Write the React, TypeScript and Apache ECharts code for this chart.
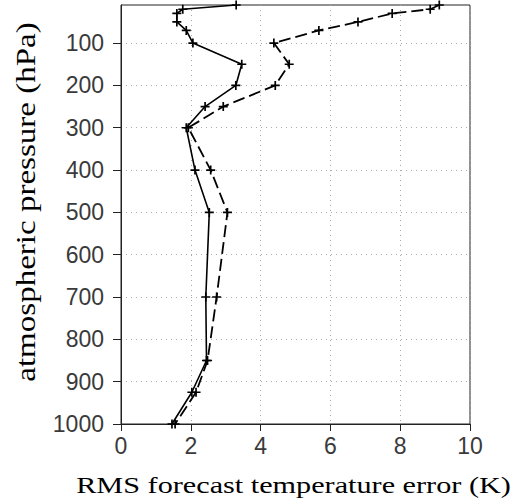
import React, { useEffect, useRef } from "react";
import * as echarts from "echarts";

const levels = [10, 20, 30, 50, 70, 100, 150, 200, 250, 300, 400, 500, 700, 850, 925, 1000];
const solidErr = [3.3, 1.77, 1.6, 1.6, 1.87, 2.06, 3.46, 3.29, 2.41, 1.87, 2.12, 2.53, 2.43, 2.45, 2.03, 1.46];
const dashedErr = [9.12, 8.86, 7.77, 6.79, 5.67, 4.38, 4.82, 4.42, 2.93, 1.93, 2.57, 3.05, 2.74, 2.48, 2.15, 1.55];
const yTicks = [100, 200, 300, 400, 500, 600, 700, 800, 900, 1000];
const xTitle = "RMS forecast temperature error (K)";
const yTitle = "atmospheric pressure (hPa)";

const plus = "path://M-0.75,-4H0.75V-0.75H4V0.75H0.75V4H-0.75V0.75H-4V-0.75H-0.75Z";
const sans = "Liberation Sans";
const serif = "Liberation Serif";

export default function App() {
  const ref = useRef<HTMLDivElement>(null);
  useEffect(() => {
    if (!ref.current) return;
    const chart = echarts.init(ref.current, undefined, { renderer: "svg" });
    const mk = (xs: number[]) => levels.map((p, i) => [xs[i], p]);
    chart.setOption({
      animation: false,
      backgroundColor: "#fff",
      grid: { left: 121, right: 47, top: 5, bottom: 75, show: true, borderColor: "#222", borderWidth: 1 },
      xAxis: {
        type: "value",
        min: 0,
        max: 10,
        interval: 2,
        axisLine: { show: true, onZero: false, lineStyle: { color: "#222", width: 1 } },
        axisTick: { show: true, length: 7, lineStyle: { color: "#222" } },
        axisLabel: { margin: 10, fontFamily: sans, fontSize: 23, color: "#3a3a3a", formatter: (v: number) => String(v) },
        splitLine: { show: true, lineStyle: { type: [1, 4], color: "#aaaaaa", width: 1 } },
      },
      yAxis: {
        type: "value",
        inverse: true,
        min: 10,
        max: 1000,
        axisLine: { show: true, lineStyle: { color: "#222", width: 1 } },
        axisTick: { show: true, length: 8, customValues: yTicks, lineStyle: { color: "#222" } },
        axisLabel: {
          customValues: yTicks,
          margin: 17,
          fontFamily: sans,
          fontSize: 23,
          color: "#3a3a3a",
          formatter: (v: number) => String(v),
        },
        splitLine: { show: true, lineStyle: { type: [1, 4], color: "#aaaaaa", width: 1 } },
      },
      series: [
        {
          type: "line",
          data: mk(solidErr),
          symbol: plus,
          symbolSize: 9,
          showAllSymbol: true,
          lineStyle: { color: "#000", width: 1.6 },
          itemStyle: { color: "#000" },
        },
        {
          type: "line",
          data: mk(dashedErr),
          symbol: plus,
          symbolSize: 9,
          showAllSymbol: true,
          lineStyle: { color: "#000", width: 1.8, type: [12, 5] },
          itemStyle: { color: "#000" },
        },
      ],
      graphic: [
        {
          type: "text",
          x: 293.5,
          y: 485,
          scaleX: 1.26,
          style: { text: xTitle, fontFamily: serif, fontSize: 24, fill: "#000", align: "center", verticalAlign: "middle" },
        },
        {
          type: "text",
          x: 26,
          y: 202,
          rotation: Math.PI / 2,
          scaleX: 1.18,
          style: { text: yTitle, fontFamily: serif, fontSize: 28, fill: "#000", align: "center", verticalAlign: "middle" },
        },
      ],
    });
    return () => chart.dispose();
  }, []);
  return <div ref={ref} style={{ position: "absolute", left: 0, top: 0, width: 517, height: 499 }} />;
}
